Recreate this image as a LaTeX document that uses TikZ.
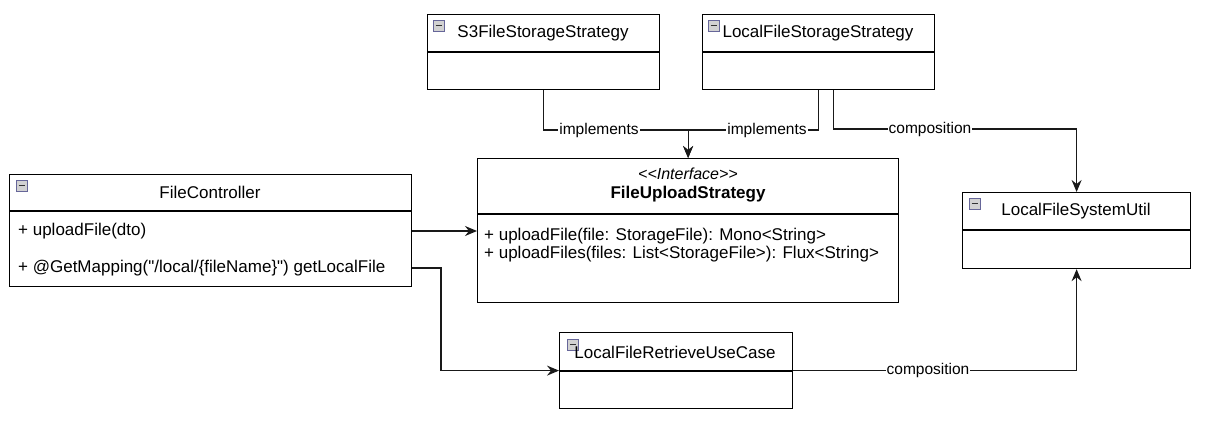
\documentclass[tikz,border=0pt]{standalone}
\usepackage{fontspec}
\setmainfont{Liberation Sans}[Ligatures=TeXOff]
\usetikzlibrary{arrows.meta}
\begin{document}
\begin{tikzpicture}[x=1pt,y=-1pt,
  cls/.style={draw=black, line width=1.2pt, inner sep=0pt, anchor=north west, fill=white},
  edge/.style={draw=black!90, line width=1.2pt},
  arr/.style={-{Stealth[length=12pt,width=10pt,inset=4pt]}},
  lbl/.style={fill=white, inner sep=1pt, font=\fontsize{15.5}{18}\selectfont},
  ttl/.style={font=\fontsize{17}{20}\selectfont, inner sep=0pt},
  mth/.style={font=\fontsize{17}{20}\selectfont, inner sep=0pt, anchor=west},
  umlicon/.pic={
    \draw[draw=gray!80!blue, fill=gray!35, line width=0.6pt] (0,0) rectangle (11,11);
    \draw[line width=1.4pt, black!80] (2.5,5.5) -- (8.5,5.5);
  }]
\useasboundingbox (0,0) rectangle (1206,425);
\fill[white] (0,0) rectangle (1206,425);

% class boxes
\node[cls, minimum width=232pt, minimum height=75pt] (s3) at (427,14) {};
\node[cls, minimum width=232pt, minimum height=75pt] (local) at (702,14) {};
\node[cls, minimum width=421pt, minimum height=144pt] (fus) at (477,158) {};
\node[cls, minimum width=402pt, minimum height=112pt] (fc) at (9,174) {};
\node[cls, minimum width=228pt, minimum height=76pt] (lfsu) at (962,192) {};
\node[cls, minimum width=233pt, minimum height=76pt] (lfr) at (559,332) {};

% dividers
\draw[line width=1.2pt] (s3.west |- 0,52) -- (s3.east |- 0,52);
\draw[line width=1.2pt] (local.west |- 0,52) -- (local.east |- 0,52);
\draw[line width=1.2pt] (fus.west |- 0,214) -- (fus.east |- 0,214);
\draw[line width=1.2pt] (fc.west |- 0,211) -- (fc.east |- 0,211);
\draw[line width=1.2pt] (lfsu.west |- 0,230) -- (lfsu.east |- 0,230);
\draw[line width=1.2pt] (lfr.west |- 0,371) -- (lfr.east |- 0,371);

% icons
\pic at (433,20) {umlicon};
\pic at (708,20) {umlicon};
\pic at (16,180) {umlicon};
\pic at (969,198) {umlicon};
\pic at (567,339) {umlicon};

% titles
\node[ttl] (s3t) at (543,33) {S3FileStorageStrategy};
\node[ttl] (localt) at (818,33) {LocalFileStorageStrategy};
\node[ttl] (fct) at (210,192) {FileController};
\node[ttl] (lfsut) at (1076,211) {LocalFileSystemUtil};
\node[ttl] (lfrt) at (675,352) {LocalFileRetrieveUseCase};
\node[ttl, font=\fontsize{16}{19}\selectfont\itshape] (fusst) at (688,174) {<<Interface>>};
\node[ttl, font=\fontsize{17}{20}\selectfont\bfseries] (fust) at (688,194) {FileUploadStrategy};

% members
\node[mth] (m1) at (18,231) {+ uploadFile(dto)};
\node[mth] (m2) at (18,268) {+ @GetMapping("/local/\{fileName\}") getLocalFile};
\node[mth] (m3) at (484,236) {+ uploadFile(file: StorageFile): Mono<String>};
\node[mth] (m4) at (484,254) {+ uploadFiles(files: List<StorageFile>): Flux<String>};

% connectors
\draw[edge,arr] (s3.south) |- (fus.north |- 0,130) -- (fus.north);
\draw[edge,arr] (local.south) |- (fus.north |- 0,130) -- (fus.north);
\draw[edge,arr] ([xshift=15pt]local.south) |- (lfsu.north |- 0,129) -- (lfsu.north);
\draw[edge,arr] (fc.east |- 0,231) -- (fus.west |- 0,231);
\draw[edge,arr] (fc.east |- 0,268) -- (441,268) |- (lfr.west);
\draw[edge,arr] (lfr.east) -| (lfsu.south);

% connector labels
\node[lbl] (l1) at (599,130) {implements};
\node[lbl] (l2) at (767,130) {implements};
\node[lbl] (l3) at (930,129) {composition};
\node[lbl] (l4) at (928,370) {composition};
\end{tikzpicture}
\end{document}
